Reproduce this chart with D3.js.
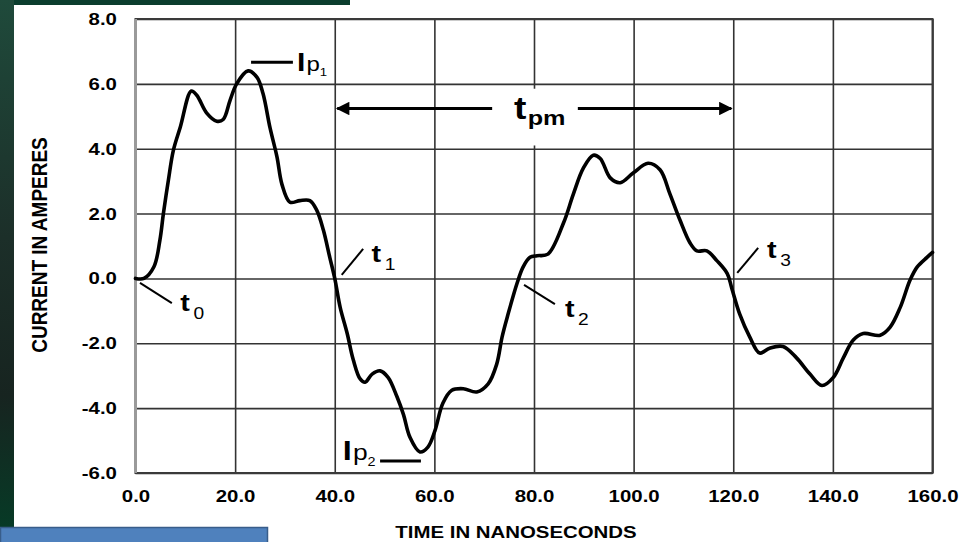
<!DOCTYPE html>
<html>
<head>
<meta charset="utf-8">
<script src="https://cdn.jsdelivr.net/npm/d3@7"></script>
<style>
  body { margin: 0; background: #fff; }
  svg { display: block; }
  text { font-family: "Liberation Sans", Arial, sans-serif; }
</style>
</head>
<body>
<div class="container"></div>
<script>
// scope trace (ns, A)
var timeNs = [0, 1.7, 3.7, 4.9, 5.6, 6.6, 7.6, 9.0, 11.2, 12.3, 14.3, 16.3, 17.6, 19.0, 20.3, 22.6,
  24.4, 25.6, 27.0, 28.4, 29.4, 31.0, 33.0, 35.0, 36.4, 37.7, 39.0, 40.0, 41.1, 42.5, 43.7, 45.1,
  46.1, 47.5, 49.1, 50.7, 52.5, 53.8, 55.1, 57.1, 58.7, 60.1, 61.7, 63.5, 65.8, 68.5, 70.8, 72.5,
  73.6, 74.8, 76.6, 77.8, 79.2, 80.6, 82.8, 85.9, 87.9, 89.9, 91.9, 93.3, 95.3, 97.3, 99.9, 102.9,
  105.3, 107.3, 109.3, 111.3, 112.7, 114.7, 116.7, 118.8, 119.7, 121.3, 123.3, 125.3, 127.3, 130.0,
  132.7, 135.4, 137.8, 140.1, 142.1, 144.1, 146.1, 149.5, 151.5, 153.5, 155.5, 156.9, 158.9, 160.0];
var currentA = [0, 0, 0.36, 1.18, 2.0, 3.03, 3.95, 4.67, 5.78, 5.65, 5.1, 4.85, 4.9, 5.5, 6.0, 6.4,
  6.2, 5.7, 4.65, 3.75, 2.9, 2.35, 2.4, 2.4, 2.1, 1.5, 0.65, 0, -0.9, -1.7, -2.5, -3.1,
  -3.2, -2.95, -2.85, -3.05, -3.65, -4.2, -4.9, -5.35, -5.2, -4.7, -3.85, -3.45, -3.4, -3.5, -3.25, -2.65,
  -1.8, -1.1, -0.15, 0.35, 0.65, 0.7, 0.75, 1.7, 2.6, 3.4, 3.8, 3.7, 3.1, 2.95, 3.25, 3.55,
  3.35, 2.6, 1.8, 1.1, 0.85, 0.85, 0.55, 0.15, -0.3, -1.1, -1.8, -2.3, -2.15, -2.1,
  -2.45, -2.95, -3.3, -3.05, -2.45, -1.9, -1.7, -1.75, -1.5, -0.9, -0.05, 0.35, 0.65, 0.8];

var xTicks = [0, 20, 40, 60, 80, 100, 120, 140, 160];
var yTicks = [-6, -4, -2, 0, 2, 4, 6, 8];

// zero crossings marked on the trace: [name, from t, from i, to t, to i, label t, label i]
var crossings = [
  ["0", 0.9, -0.14, 7.3, -0.76, 9.0, -1.0],
  ["1", 41.4, 0.11, 45.7, 0.91, 47.4, 0.51],
  ["2", 78.0, -0.2, 84.2, -0.79, 86.2, -1.2],
  ["3", 120.8, 0.17, 125.0, 0.94, 126.8, 0.63]
];

var width = 962, height = 542;
var sx = 1.2; // the source image is stretched sideways

var svg = d3.select(".container").append("svg")
    .attr("width", width)
    .attr("height", height);

// bits of the slide behind the chart
var defs = svg.append("defs");
var grad = defs.append("linearGradient").attr("id", "slide")
    .attr("x1", 0).attr("y1", 0).attr("x2", 0).attr("y2", 1);
grad.append("stop").attr("offset", "0%").attr("stop-color", "#1f4a3b");
grad.append("stop").attr("offset", "45%").attr("stop-color", "#1c2f29");
grad.append("stop").attr("offset", "75%").attr("stop-color", "#172420");
grad.append("stop").attr("offset", "100%").attr("stop-color", "#073a26");

svg.append("rect").attr("width", width).attr("height", height).attr("fill", "#fff");
svg.append("rect").attr("x", 0).attr("y", 0).attr("width", 350).attr("height", 5).attr("fill", "#0b3d2e");
svg.append("rect").attr("x", 0).attr("y", 0).attr("width", 14).attr("height", 527).attr("fill", "url(#slide)");
svg.append("rect").attr("x", 0.5).attr("y", 527.5).attr("width", 267).attr("height", 20)
    .attr("fill", "#4f81bd").attr("stroke", "#385d8a").attr("stroke-width", 1.5);

var x = d3.scaleLinear().domain([0, 160]).range([135.5, 932.5]);
var y = d3.scaleLinear().domain([-6, 8]).range([473, 19]);

var plotW = x(160) - x(0), plotH = y(-6) - y(8);
var fmt = function(d) { return d.toFixed(1); };

var xAxis = svg.append("g")
    .attr("transform", "translate(0," + y(-6) + ")")
    .call(d3.axisBottom(x).tickValues(xTicks).tickFormat(fmt).tickSize(-plotH).tickPadding(16.5));
var yAxis = svg.append("g")
    .attr("transform", "translate(" + x(0) + ",0)")
    .call(d3.axisLeft(y).tickValues(yTicks).tickFormat(fmt).tickSize(-plotW).tickPadding(15.5));

[xAxis, yAxis].forEach(function(a) {
  a.attr("font-family", null).attr("font-size", null);
  a.select(".domain").remove();
  a.selectAll(".tick line").attr("stroke", "#333").attr("stroke-width", 1.6);
  a.selectAll(".tick text")
    .attr("fill", "#000")
    .style("font-size", "17px")
    .style("font-weight", "bold")
    .attr("transform", "scale(" + sx + ",1)");
});

// plot frame
svg.append("rect")
    .attr("x", x(0)).attr("y", y(8)).attr("width", plotW).attr("height", plotH)
    .attr("fill", "none").attr("stroke", "#3a3a3a").attr("stroke-width", 2);
svg.append("line")
    .attr("x1", x(0)).attr("x2", x(0)).attr("y1", y(8)).attr("y2", y(-6))
    .attr("stroke", "#9a9a9a").attr("stroke-width", 3);

// axis titles
svg.append("text")
    .attr("transform", "translate(516,538) scale(" + sx + ",1)")
    .attr("text-anchor", "middle")
    .style("font-size", "17px").style("font-weight", "bold")
    .text("TIME IN NANOSECONDS");
svg.append("text")
    .attr("transform", "translate(47,245) scale(" + sx + ",1) rotate(-90)")
    .attr("text-anchor", "middle")
    .style("font-size", "19px").style("font-weight", "bold")
    .text("CURRENT IN AMPERES");

// t_pm span arrow, with a white patch behind its label
svg.append("rect")
    .attr("x", x(72.6)).attr("y", y(5.85)).attr("width", x(87.8) - x(72.6)).attr("height", y(4.1) - y(5.85))
    .attr("fill", "#fff");
defs.append("marker").attr("id", "head")
    .attr("viewBox", "0 0 10 10").attr("refX", 9).attr("refY", 5)
    .attr("markerWidth", 5.5).attr("markerHeight", 4.5).attr("markerUnits", "strokeWidth")
    .attr("orient", "auto")
  .append("path").attr("d", "M0,0L10,5L0,10z").attr("fill", "#000");
[[71.6, 40.5], [88.8, 119.6]].forEach(function(s) {
  svg.append("line")
      .attr("x1", x(s[0])).attr("x2", x(s[1])).attr("y1", y(5.24)).attr("y2", y(5.24))
      .attr("stroke", "#000").attr("stroke-width", 3)
      .attr("marker-end", "url(#head)");
});
var tpm = svg.append("text")
    .attr("transform", "translate(" + x(76.0) + "," + y(4.91) + ") scale(" + sx + ",1)")
    .style("font-weight", "bold");
tpm.append("tspan").style("font-size", "31px").text("t");
tpm.append("tspan").attr("dx", 1).attr("dy", 6).style("font-size", "21px").text("pm");

// the trace
var line = d3.line()
    .x(function(d, i) { return x(timeNs[i]); })
    .y(function(d) { return y(d); })
    .curve(d3.curveCatmullRom.alpha(0.5));
svg.append("path")
    .attr("d", line(currentA))
    .attr("fill", "none")
    .attr("stroke", "#000")
    .attr("stroke-width", 3.6)
    .attr("stroke-linejoin", "round")
    .attr("stroke-linecap", "round");

// zero crossing labels
crossings.forEach(function(c) {
  svg.append("line")
      .attr("x1", x(c[1])).attr("y1", y(c[2])).attr("x2", x(c[3])).attr("y2", y(c[4]))
      .attr("stroke", "#000").attr("stroke-width", 2);
  var t = svg.append("text")
      .attr("transform", "translate(" + x(c[5]) + "," + y(c[6]) + ") scale(" + sx + ",1)");
  t.append("tspan").style("font-size", "24px").style("font-weight", "bold").text("t");
  t.append("tspan").attr("dx", 3).attr("dy", 8).style("font-size", "16px").text(c[0]);
});

// peak currents
svg.append("line")
    .attr("x1", x(23.2)).attr("x2", x(31.6)).attr("y1", y(6.67)).attr("y2", y(6.67))
    .attr("stroke", "#000").attr("stroke-width", 3);
var ip1 = svg.append("text")
    .attr("transform", "translate(" + x(32.4) + "," + y(6.4) + ") scale(" + sx + ",1)");
ip1.append("tspan").style("font-size", "25px").style("font-weight", "bold").text("I");
ip1.append("tspan").attr("dx", 1).style("font-size", "20px").text("p");
ip1.append("tspan").attr("dy", 5).style("font-size", "11px").text("1");

svg.append("line")
    .attr("x1", x(49.1)).attr("x2", x(57.3)).attr("y1", y(-5.63)).attr("y2", y(-5.63))
    .attr("stroke", "#000").attr("stroke-width", 3);
var ip2 = svg.append("text")
    .attr("transform", "translate(" + x(41.6) + "," + y(-5.6) + ") scale(" + sx + ",1)");
ip2.append("tspan").style("font-size", "27px").style("font-weight", "bold").text("I");
ip2.append("tspan").attr("dx", 1).style("font-size", "22px").text("p");
ip2.append("tspan").attr("dy", 6).style("font-size", "12px").text("2");
</script>
</body>
</html>
